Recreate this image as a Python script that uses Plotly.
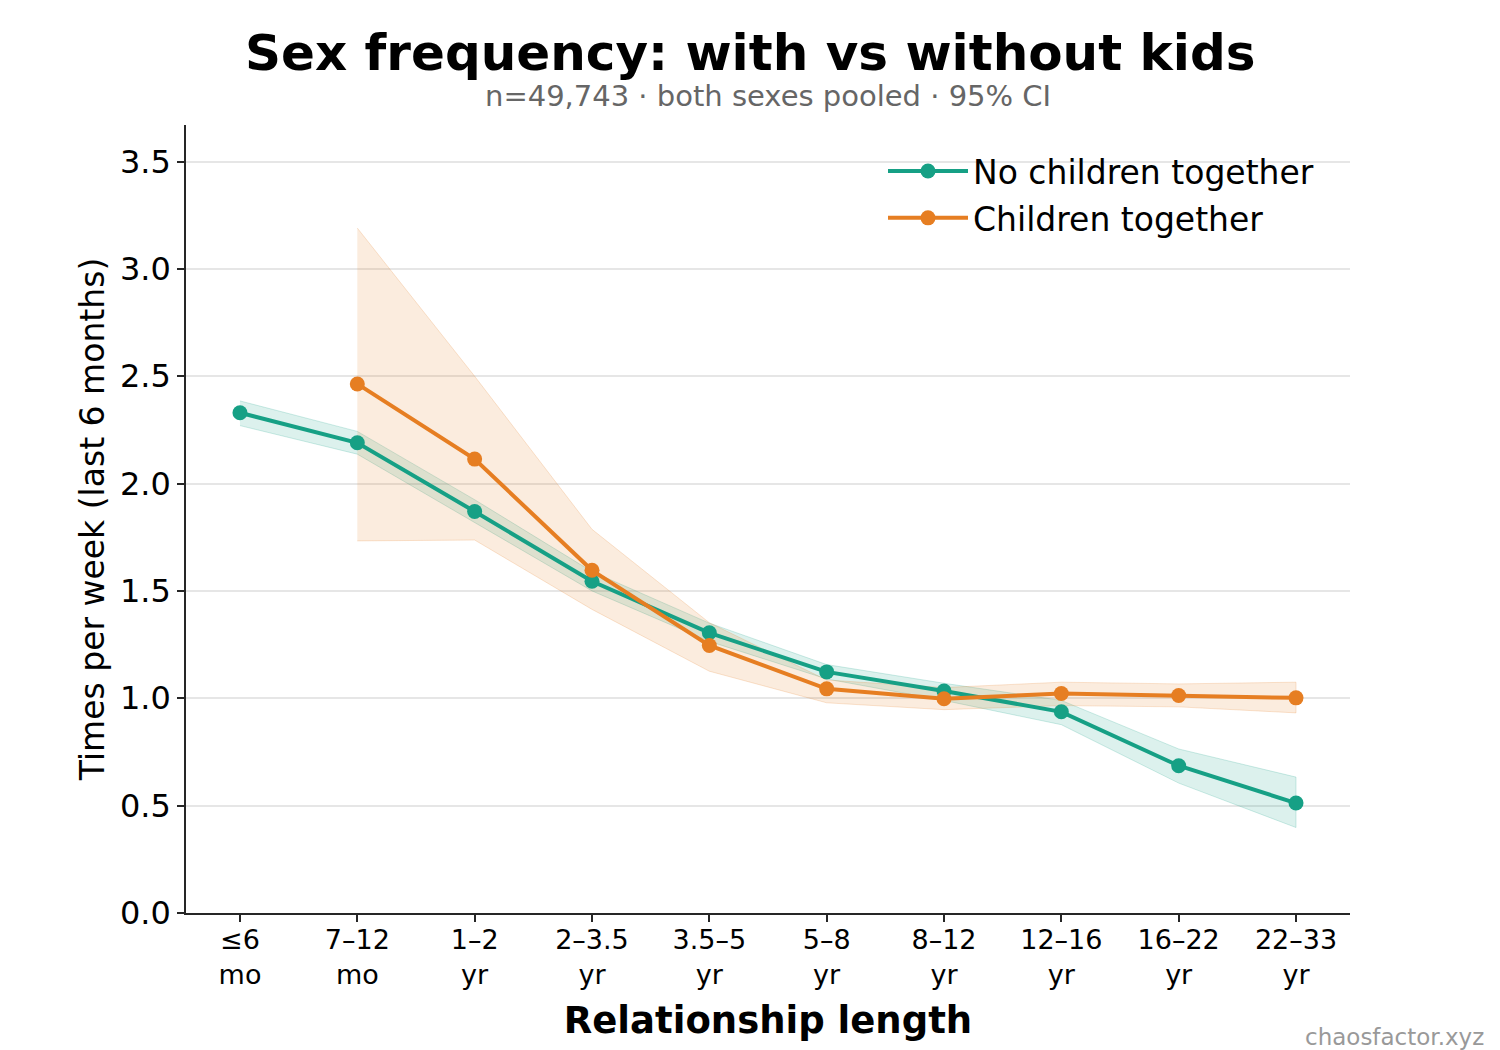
import plotly.graph_objects as go

categories = ["≤6<br>mo", "7–12<br>mo", "1–2<br>yr", "2–3.5<br>yr", "3.5–5<br>yr",
              "5–8<br>yr", "8–12<br>yr", "12–16<br>yr", "16–22<br>yr", "22–33<br>yr"]

no_kids = [2.33, 2.19, 1.87, 1.545, 1.305, 1.123, 1.034, 0.937, 0.686, 0.512]
no_kids_hi = [2.385, 2.243, 1.925, 1.59, 1.35, 1.157, 1.07, 0.99, 0.764, 0.633]
no_kids_lo = [2.27, 2.137, 1.82, 1.50, 1.265, 1.09, 0.99, 0.877, 0.605, 0.398]

kids = [None, 2.464, 2.114, 1.596, 1.246, 1.044, 0.998, 1.022, 1.013, 1.002]
kids_hi = [None, 3.19, 2.50, 1.787, 1.352, 1.085, 1.05, 1.075, 1.067, 1.075]
kids_lo = [None, 1.733, 1.737, 1.414, 1.126, 0.979, 0.947, 0.966, 0.96, 0.932]

series = [
    ("No children together", no_kids, no_kids_lo, no_kids_hi, "#16a085", "rgba(22,160,133,0.15)", "rgba(22,160,133,0.2)"),
    ("Children together", kids, kids_lo, kids_hi, "#e67e22", "rgba(230,126,34,0.15)", "rgba(230,126,34,0.2)"),
]

fig = go.Figure()

for name, vals, lo, hi, col, fillc, edgec in series:
    xs = [c for c, v in zip(categories, hi) if v is not None]
    his = [v for v in hi if v is not None]
    los = [v for v in lo if v is not None]
    fig.add_trace(go.Scatter(
        x=xs + xs[::-1], y=his + los[::-1], fill="toself", fillcolor=fillc,
        line=dict(color=edgec, width=1), mode="lines", showlegend=False, hoverinfo="skip"))

for i, (name, vals, lo, hi, col, fillc, edgec) in enumerate(series):
    xs = [c for c, v in zip(categories, vals) if v is not None]
    ys = [v for v in vals if v is not None]
    fig.add_trace(go.Scatter(
        x=xs, y=ys, mode="lines+markers", name=name, legendgroup=f"g{i}",
        line=dict(color=col, width=4), marker=dict(color=col, size=15)))

H = 1050
plot_top, plot_bot, plot_l, plot_r = 125, 913, 186, 1350
def ypix(p):
    return (plot_bot - p) / (plot_bot - plot_top)
def xpix(p):
    return (p - plot_l) / (plot_r - plot_l)

axis_col = "#262626"
fig.update_layout(
    width=1500, height=1050,
    margin=dict(l=plot_l, r=1500 - plot_r, t=plot_top, b=H - plot_bot),
    plot_bgcolor="white", paper_bgcolor="white",
    font=dict(family="DejaVu Sans", color="black"),
    showlegend=True,
    legend=dict(x=xpix(883), y=ypix(143), xanchor="left", yanchor="top",
                font=dict(size=33, color="black"), bgcolor="rgba(0,0,0,0)",
                itemwidth=80, tracegroupgap=1),
    xaxis=dict(type="category", categoryorder="array", categoryarray=categories,
               range=[-0.46, 9.46], showgrid=False, showline=True, linecolor=axis_col,
               linewidth=1.5, ticks="outside", ticklen=7, tickwidth=1.5, tickcolor=axis_col,
               tickfont=dict(size=27, color="black"), zeroline=False, ticklabelstandoff=-5,
               title=dict(text="<b>Relationship length</b>", font=dict(size=37, color="black"), standoff=18)),
    yaxis=dict(range=[0, 3.67], dtick=0.5, tickformat=".1f", showgrid=True,
               gridcolor="#e6e6e6", gridwidth=1.5, showline=True, linecolor=axis_col,
               linewidth=1.5, ticks="outside", ticklen=7, tickwidth=1.5, tickcolor=axis_col,
               tickfont=dict(size=32, color="black"), zeroline=False,
               title=dict(text="Times per week (last 6 months)", font=dict(size=33, color="black"), standoff=5)),
)

fig.add_annotation(text="<b>Sex frequency: with vs without kids</b>", x=xpix(750), y=ypix(53),
                   xref="paper", yref="paper", showarrow=False, xanchor="center", yanchor="middle",
                   font=dict(size=50, color="black"))
fig.add_annotation(text="n=49,743 · both sexes pooled · 95% CI", x=xpix(768), y=ypix(96),
                   xref="paper", yref="paper", showarrow=False, xanchor="center", yanchor="middle",
                   font=dict(size=29, color="#666666"))
fig.add_annotation(text="chaosfactor.xyz", x=xpix(1486), y=ypix(1037),
                   xref="paper", yref="paper", showarrow=False, xanchor="right", yanchor="middle",
                   font=dict(size=23, color="#999999"))

fig.write_html("out.html")
